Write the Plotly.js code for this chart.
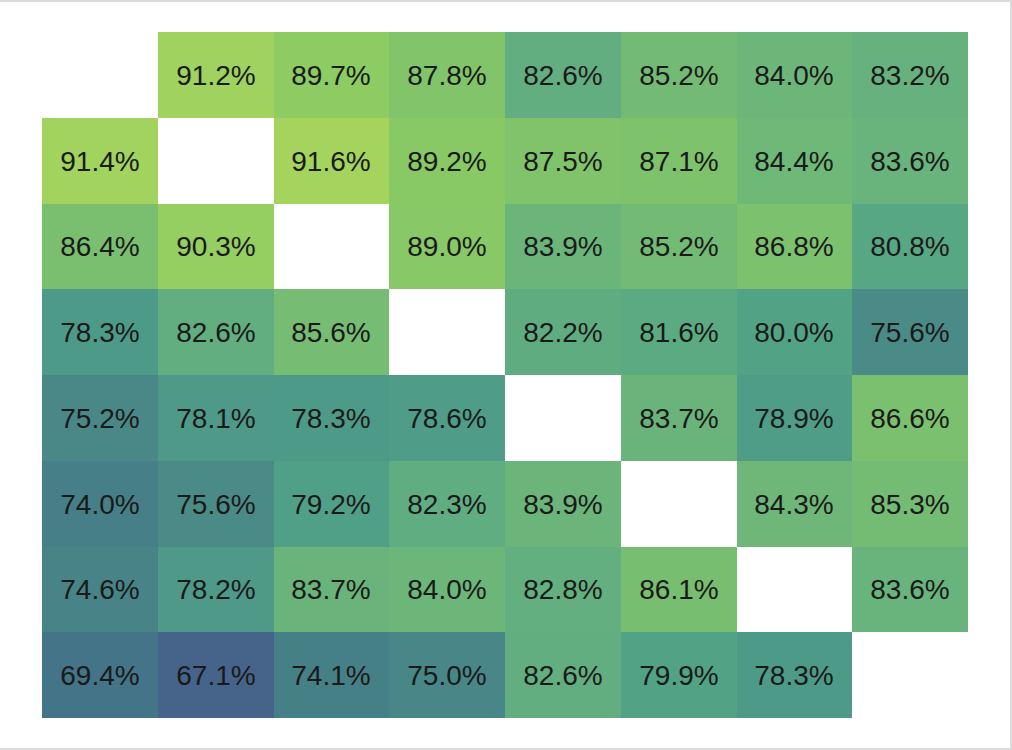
<!DOCTYPE html>
<html>
<head>
<meta charset="utf-8">
<script src="https://cdn.plot.ly/plotly-3.0.1.min.js"></script>
<style>
  html, body { margin: 0; padding: 0; background: #fff; }
  #chart { width: 1012px; height: 750px; }
  #frame { position: absolute; left: 0; top: 0; width: 1012px; height: 750px; box-sizing: border-box;
           border-top: 2px solid #dcdcdc; border-right: 2px solid #dcdcdc; border-bottom: 2px solid #dcdcdc;
           pointer-events: none; }
</style>
</head>
<body>
<div id="chart"></div>
<div id="frame"></div>
<script>
// Column / row identifiers (no labels are shown in the chart)
var cols = [0, 1, 2, 3, 4, 5, 6, 7];
var rows = [0, 1, 2, 3, 4, 5, 6, 7];

// Values per row, top to bottom (null = blank diagonal)
var row0 = [null, 91.2, 89.7, 87.8, 82.6, 85.2, 84.0, 83.2];
var row1 = [91.4, null, 91.6, 89.2, 87.5, 87.1, 84.4, 83.6];
var row2 = [86.4, 90.3, null, 89.0, 83.9, 85.2, 86.8, 80.8];
var row3 = [78.3, 82.6, 85.6, null, 82.2, 81.6, 80.0, 75.6];
var row4 = [75.2, 78.1, 78.3, 78.6, null, 83.7, 78.9, 86.6];
var row5 = [74.0, 75.6, 79.2, 82.3, 83.9, null, 84.3, 85.3];
var row6 = [74.6, 78.2, 83.7, 84.0, 82.8, 86.1, null, 83.6];
var row7 = [69.4, 67.1, 74.1, 75.0, 82.6, 79.9, 78.3, null];

var z = [row0, row1, row2, row3, row4, row5, row6, row7];
var text = z.map(function (r) {
  return r.map(function (v) { return v === null ? '' : v.toFixed(1) + '%'; });
});

// Colour anchors
var zmin = 67.0, zmax = 91.6;
var stopVals = [67.0, 69.4, 74.0, 75.5, 78.3, 80.0, 82.6, 84.0, 85.5, 87.5, 89.5, 91.6];
var stopCols = ['#466389', '#437487', '#467f87', '#4a8a87', '#4e9a88', '#52a386',
                '#62ae80', '#6cb67a', '#75bc73', '#80c36a', '#8bca64', '#a4d45d'];
var colorscale = stopVals.map(function (v, i) {
  return [(v - zmin) / (zmax - zmin), stopCols[i]];
});

var trace = {
  type: 'heatmap',
  x: cols,
  y: rows,
  z: z,
  text: text,
  texttemplate: '%{text}',
  textfont: { family: 'Liberation Sans, Arial, sans-serif', size: 28, color: '#1a1a1a' },
  colorscale: colorscale,
  zmin: zmin,
  zmax: zmax,
  showscale: false,
  hoverongaps: false
};

var layout = {
  width: 1012,
  height: 750,
  margin: { l: 42, r: 44, t: 32, b: 32, pad: 0 },
  paper_bgcolor: '#ffffff',
  plot_bgcolor: '#ffffff',
  xaxis: { visible: false, showgrid: false, zeroline: false, range: [-0.5, 7.5] },
  yaxis: { visible: false, showgrid: false, zeroline: false, range: [7.5, -0.5] },
  showlegend: false
};

Plotly.newPlot('chart', [trace], layout, { displayModeBar: false, staticPlot: true });
</script>
</body>
</html>
